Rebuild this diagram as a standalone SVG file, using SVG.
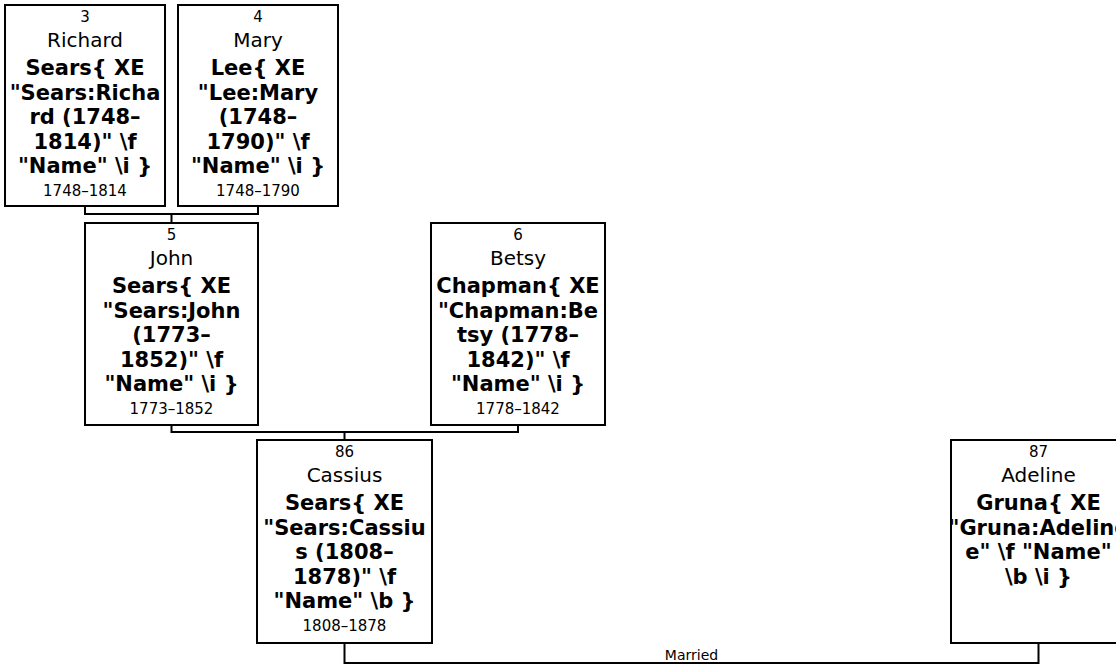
<svg xmlns="http://www.w3.org/2000/svg" width="1116" height="665" viewBox="0 0 1116 665">
<style>
.box{fill:#fff;stroke:#000;stroke-width:2}
.conn{fill:none;stroke:#000;stroke-width:2}
text{font-family:"DejaVu Sans","Verdana",sans-serif;text-anchor:middle;fill:#000}
.num{font-size:15px}
.nm{font-size:20px}
.b{font-size:21px;font-weight:bold}
.dt{font-size:15px}
.lbl{font-size:14px}
</style>
<rect width="1116" height="665" fill="#fff"/>
<g id="connectors">
<path class="conn" d="M85 206 V214 H258 V206 M171.5 214 V223"/>
<path class="conn" d="M171.5 425 V432 H518 V425 M344.5 432 V440"/>
<path class="conn" d="M344.5 643 V663 H1038.5 V643"/>
<text class="lbl" x="691.5" y="660">Married</text>
</g>
<g id="n3">
<rect class="box" x="5" y="5" width="160" height="201"/>
<text class="num" x="85" y="21.5">3</text>
<text class="nm" x="85" y="46.5">Richard</text>
<text class="b" x="85" y="75">Sears{ XE</text>
<text class="b" x="85" y="99.5">"Sears:Richa</text>
<text class="b" x="85" y="124">rd (1748–</text>
<text class="b" x="85" y="148.5">1814)" \f</text>
<text class="b" x="85" y="173">"Name" \i }</text>
<text class="dt" x="85" y="195.5">1748–1814</text>
</g>
<g id="n4">
<rect class="box" x="178" y="5" width="160" height="201"/>
<text class="num" x="258" y="21.5">4</text>
<text class="nm" x="258" y="46.5">Mary</text>
<text class="b" x="258" y="75">Lee{ XE</text>
<text class="b" x="258" y="99.5">"Lee:Mary</text>
<text class="b" x="258" y="124">(1748–</text>
<text class="b" x="258" y="148.5">1790)" \f</text>
<text class="b" x="258" y="173">"Name" \i }</text>
<text class="dt" x="258" y="195.5">1748–1790</text>
</g>
<g id="n5">
<rect class="box" x="85" y="223" width="173" height="202"/>
<text class="num" x="171.5" y="239.5">5</text>
<text class="nm" x="171.5" y="264.5">John</text>
<text class="b" x="171.5" y="293">Sears{ XE</text>
<text class="b" x="171.5" y="317.5">"Sears:John</text>
<text class="b" x="171.5" y="342">(1773–</text>
<text class="b" x="171.5" y="366.5">1852)" \f</text>
<text class="b" x="171.5" y="391">"Name" \i }</text>
<text class="dt" x="171.5" y="413.5">1773–1852</text>
</g>
<g id="n6">
<rect class="box" x="431" y="223" width="174" height="202"/>
<text class="num" x="518" y="239.5">6</text>
<text class="nm" x="518" y="264.5">Betsy</text>
<text class="b" x="518" y="293">Chapman{ XE</text>
<text class="b" x="518" y="317.5">"Chapman:Be</text>
<text class="b" x="518" y="342">tsy (1778–</text>
<text class="b" x="518" y="366.5">1842)" \f</text>
<text class="b" x="518" y="391">"Name" \i }</text>
<text class="dt" x="518" y="413.5">1778–1842</text>
</g>
<g id="n86">
<rect class="box" x="257" y="440" width="175" height="203"/>
<text class="num" x="344.5" y="456.5">86</text>
<text class="nm" x="344.5" y="481.5">Cassius</text>
<text class="b" x="344.5" y="510">Sears{ XE</text>
<text class="b" x="344.5" y="534.5">"Sears:Cassiu</text>
<text class="b" x="344.5" y="559">s (1808–</text>
<text class="b" x="344.5" y="583.5">1878)" \f</text>
<text class="b" x="344.5" y="608">"Name" \b }</text>
<text class="dt" x="344.5" y="630.5">1808–1878</text>
</g>
<g id="n87">
<rect class="box" x="951" y="440" width="175" height="203"/>
<text class="num" x="1038.5" y="456.5">87</text>
<text class="nm" x="1038.5" y="481.5">Adeline</text>
<text class="b" x="1038.5" y="510">Gruna{ XE</text>
<text class="b" x="1038.5" y="534.5">"Gruna:Adeline</text>
<text class="b" x="1038.5" y="559">e" \f "Name"</text>
<text class="b" x="1038.5" y="583.5">\b \i }</text>
</g>
</svg>
